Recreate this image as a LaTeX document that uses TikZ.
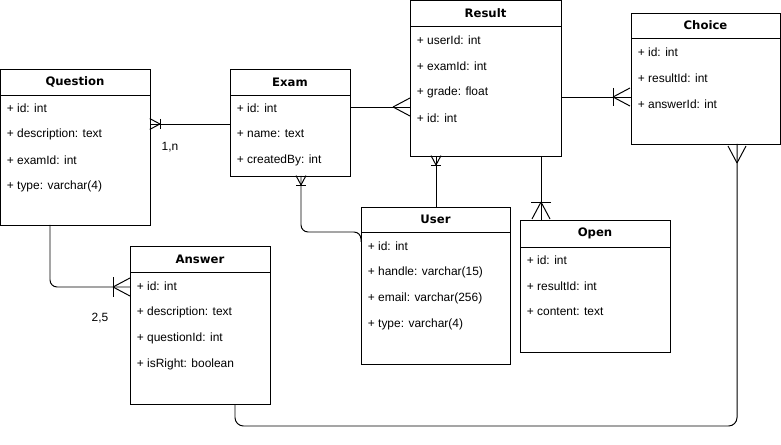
\documentclass[tikz,border=0pt]{standalone}
\usepackage{fontspec}
\setmainfont{Liberation Sans}
\newfontfamily\titlefont{DejaVu Sans}
\usepackage{tikz}
\usetikzlibrary{fit}

\tikzset{
    entity/.style={draw, inner sep=0pt, outer sep=0pt},
    title/.style={font=\titlefont\fontsize{8.3}{10}\selectfont\bfseries, inner sep=1pt},
    field/.style={font=\fontsize{8.5}{10}\selectfont, anchor=west, inner sep=1pt},
    card/.style={font=\fontsize{8.5}{10}\selectfont, inner sep=1pt},
    crowfoot/.pic={\draw (0,0) -- (17,-9) (0,0) -- (17,9);},
    onebar/.pic={\draw (0,-10) -- (0,10);}
}

\begin{document}
\begin{tikzpicture}[x=0.025cm, y=-0.025cm, line width=0.7pt]
    \useasboundingbox (0,0) rectangle (781,445);

    % Question
    \node[entity, fit={(0.5,69) (150,225)}] (question) {};
    \draw (question.west |- 0,95) -- (question.east |- 0,95);
    \node[title] (question-title) at (75,82) {Question};
    \foreach \f [count=\i] in {{+ id: int}, {+ description: text}, {+ examId: int}, {+ type: varchar(4)}}
        \node[field] (question-f\i) at (5,82+26*\i) {\f};

    % Exam
    \node[entity, fit={(230,69) (350,176)}] (exam) {};
    \draw (exam.west |- 0,95) -- (exam.east |- 0,95);
    \node[title] (exam-title) at (290,82) {Exam};
    \foreach \f [count=\i] in {{+ id: int}, {+ name: text}, {+ createdBy: int}}
        \node[field] (exam-f\i) at (235,82+26*\i) {\f};

    % Result
    \node[entity, fit={(410,0.5) (561,156)}] (result) {};
    \draw (result.west |- 0,26) -- (result.east |- 0,26);
    \node[title] (result-title) at (485.5,13) {Result};
    \foreach \f [count=\i] in {{+ userId: int}, {+ examId: int}, {+ grade: float}, {+ id: int}}
        \node[field] (result-f\i) at (415,14+26*\i) {\f};

    % Choice
    \node[entity, fit={(631,13) (780,144)}] (choice) {};
    \draw (choice.west |- 0,38) -- (choice.east |- 0,38);
    \node[title] (choice-title) at (705.5,25.5) {Choice};
    \foreach \f [count=\i] in {{+ id: int}, {+ resultId: int}, {+ answerId: int}}
        \node[field] (choice-f\i) at (636,26+26*\i) {\f};

    % User
    \node[entity, fit={(361,207) (510,364)}] (user) {};
    \draw (user.west |- 0,232) -- (user.east |- 0,232);
    \node[title] (user-title) at (435.5,219.5) {User};
    \foreach \f [count=\i] in {{+ id: int}, {+ handle: varchar(15)}, {+ email: varchar(256)}, {+ type: varchar(4)}}
        \node[field] (user-f\i) at (366,220+26*\i) {\f};

    % Open
    \node[entity, fit={(520,220) (670,352)}] (open) {};
    \draw (open.west |- 0,247) -- (open.east |- 0,247);
    \node[title] (open-title) at (595,233.5) {Open};
    \foreach \f [count=\i] in {{+ id: int}, {+ resultId: int}, {+ content: text}}
        \node[field] (open-f\i) at (525,234+26*\i) {\f};

    % Answer
    \node[entity, fit={(130,246) (270,404)}] (answer) {};
    \draw (answer.west |- 0,272) -- (answer.east |- 0,272);
    \node[title] (answer-title) at (200,259) {Answer};
    \foreach \f [count=\i] in {{+ id: int}, {+ description: text}, {+ questionId: int}, {+ isRight: boolean}}
        \node[field] (answer-f\i) at (135,260+26*\i) {\f};

    % Relations
    \draw (exam.west |- 0,124) -- (question.east |- 0,124);
    \pic[rotate=180, scale=0.6] at (160,124) {crowfoot};
    \pic[scale=0.5] at (160,124) {onebar};
    \node[card] (card-qe) at (170,147) {1,n};

    \draw (exam.east |- 0,107) -- (result.west |- 0,107);
    \pic at (393,107) {crowfoot};

    \draw (result.east |- 0,97) -- (choice.west |- 0,97);
    \pic at (613,97) {crowfoot};
    \pic[scale=0.9] at (613,97) {onebar};

    \draw (result.south -| 436,0) -- (user.north -| 436,0);
    \pic[rotate=90, scale=0.55] at (436,165) {crowfoot};
    \pic[rotate=90, scale=0.5] at (436,165) {onebar};

    \draw (result.south -| 541,0) -- (open.north -| 541,0);
    \pic[rotate=-90] at (541,202) {crowfoot};
    \pic[rotate=-90] at (541,202) {onebar};

    \draw[rounded corners=5pt] (exam.south -| 301,0) |- (user.west |- 0,232) -- (user.west |- 0,242);
    \pic[rotate=90, scale=0.55] at (301,185) {crowfoot};
    \pic[rotate=90, scale=0.5] at (301,185) {onebar};

    \draw[rounded corners=5pt] (question.south -| 50,0) |- (answer.west |- 0,287);
    \pic at (113,287) {crowfoot};
    \pic at (113,287) {onebar};
    \node[card] (card-qa) at (100,318) {2,5};

    \coordinate (bend) at (737,426);
    \draw[rounded corners=6pt] (answer.south -| 235,0) |- (bend) -- (choice.south -| 737,0);
    \pic[rotate=90] at (737,163) {crowfoot};
\end{tikzpicture}
\end{document}
